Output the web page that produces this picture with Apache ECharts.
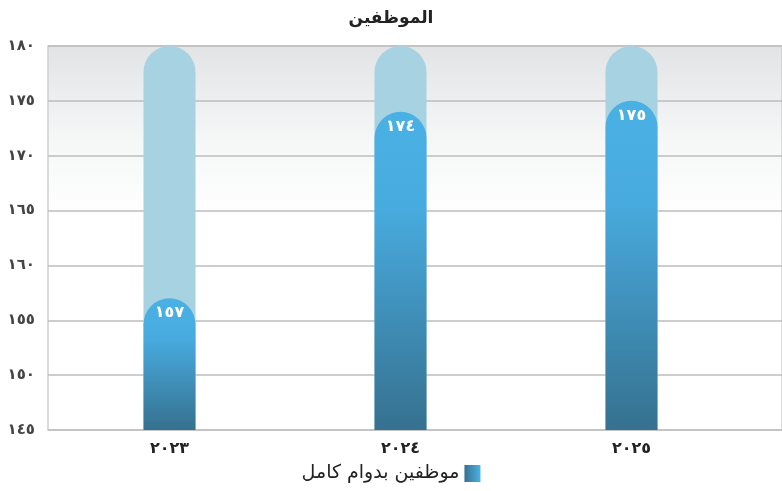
<!DOCTYPE html>
<html>
<head>
<meta charset="utf-8">
<script src="https://cdn.jsdelivr.net/npm/echarts@6/dist/echarts.min.js"></script>
<style>
  html, body { margin: 0; padding: 0; background: #fff; }
  #chart { width: 782px; height: 491px; }
</style>
</head>
<body>
<div id="chart"></div>
<script>
  // data
  var years = ['2023', '2024', '2025'];
  var fullTime = [157, 174, 175];
  var capValue = [180, 180, 180];
  var seriesName = 'موظفين بدوام كامل';
  var titleText = 'الموظفين';

  // western digits -> arabic-indic digits
  function toArabic(v) {
    return String(v).replace(/[0-9]/g, function (d) {
      return '٠١٢٣٤٥٦٧٨٩'.charAt(+d);
    });
  }

  var font = '"DejaVu Sans", sans-serif';
  var chart = echarts.init(document.getElementById('chart'));

  chart.setOption({
    animation: false,
    textStyle: { fontFamily: font },
    title: {
      text: titleText,
      left: 'center',
      top: 5,
      textStyle: { fontSize: 17, fontWeight: 'bold', color: '#222', fontFamily: font }
    },
    legend: {
      bottom: 3,
      left: 'center',
      align: 'right',
      itemWidth: 16,
      itemHeight: 17,
      itemGap: 6,
      textStyle: { fontSize: 19, color: '#222', fontFamily: font },
      data: [{
        name: seriesName,
        icon: 'rect',
        itemStyle: {
          color: new echarts.graphic.LinearGradient(0, 0, 1, 0, [
            { offset: 0, color: '#36718f' },
            { offset: 1, color: '#4ab2e6' }
          ])
        }
      }]
    },
    grid: [{
      left: 48, right: 0, top: 46, bottom: 61,
      show: true,
      borderWidth: 1.5,
      borderColor: '#d0d0d0',
      backgroundColor: new echarts.graphic.LinearGradient(0, 0, 0, 1, [
        { offset: 0, color: '#e2e3e5' },
        { offset: 0.25, color: '#f6f7f7' },
        { offset: 0.45, color: '#ffffff' },
        { offset: 1, color: '#ffffff' }
      ])
    }, {
      left: 54, right: 35, top: 46, bottom: 61
    }],
    xAxis: [{
      gridIndex: 0,
      type: 'value',
      show: false
    }, {
      gridIndex: 1,
      type: 'category',
      data: years,
      axisLine: { show: false },
      axisTick: { show: false },
      axisLabel: {
        margin: 11,
        fontSize: 16,
        fontWeight: 'bold',
        color: '#222',
        formatter: function (v) { return toArabic(v); }
      }
    }],
    yAxis: [{
      gridIndex: 0,
      type: 'value',
      min: 145,
      max: 180,
      interval: 5,
      axisLine: { show: false },
      axisTick: { show: false },
      splitLine: { lineStyle: { color: '#bdbdc0', width: 1.5 } },
      axisLabel: {
        margin: 13,
        fontSize: 15,
        fontWeight: 'bold',
        color: '#444',
        formatter: function (v) { return toArabic(v); }
      }
    }, {
      gridIndex: 1,
      type: 'value',
      min: 145,
      max: 180,
      show: false
    }],
    series: [{
      name: 'cap',
      type: 'bar',
      xAxisIndex: 1,
      yAxisIndex: 1,
      data: capValue,
      barWidth: 52,
      silent: true,
      itemStyle: { color: '#a6d2e2', borderRadius: [26, 26, 0, 0] },
      z: 2
    }, {
      name: seriesName,
      type: 'bar',
      xAxisIndex: 1,
      yAxisIndex: 1,
      data: fullTime,
      barWidth: 52,
      barGap: '-100%',
      itemStyle: {
        borderRadius: [26, 26, 0, 0],
        color: new echarts.graphic.LinearGradient(0, 0, 0, 1, [
          { offset: 0, color: '#4ab1e5' },
          { offset: 0.3, color: '#48abdf' },
          { offset: 1, color: '#36718f' }
        ])
      },
      label: {
        show: true,
        position: 'insideTop',
        distance: 7,
        color: '#fff',
        fontSize: 16,
        fontWeight: 'bold',
        formatter: function (p) { return toArabic(p.value); }
      },
      z: 3
    }]
  });
</script>
</body>
</html>
